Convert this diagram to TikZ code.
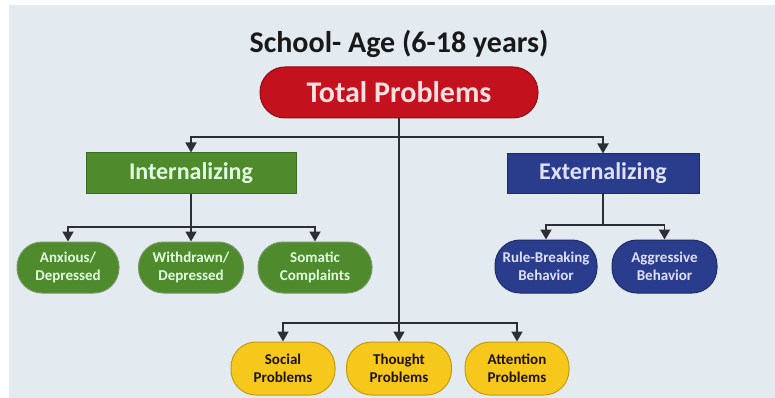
\documentclass[tikz,border=0pt]{standalone}
\usepackage{fontspec}
\setmainfont{Carlito}
\usetikzlibrary{arrows.meta}

\definecolor{bgblue}{HTML}{E3EBF1}
\definecolor{totred}{HTML}{C3121D}
\definecolor{totredline}{HTML}{8E0E14}
\definecolor{intgreen}{HTML}{4F8A2D}
\definecolor{intgreenline}{HTML}{3C6C21}
\definecolor{extblue}{HTML}{2A3D8C}
\definecolor{extblueline}{HTML}{1E2D6A}
\definecolor{syyellow}{HTML}{F6C81C}
\definecolor{syyellowline}{HTML}{C39A12}
\definecolor{linkgrey}{HTML}{2B3036}

\tikzset{
    link/.style={draw=linkgrey, line width=1.8pt, -{Triangle[length=10pt,width=11pt]}},
    plainlink/.style={draw=linkgrey, line width=1.8pt},
    pill/.style={rounded corners=25pt, align=center, font=\bfseries\fontsize{15}{18}\selectfont, line width=1pt, inner sep=0pt},
    greenpill/.style={pill, fill=intgreen, draw=intgreenline!70!white, text=white!88!green},
    bluepill/.style={pill, fill=extblue, draw=extblueline, text=white!88!blue},
    yellowpill/.style={pill, fill=syyellow, draw=syyellowline, text=black!85!brown},
    scalebox/.style={inner sep=0pt, font=\bfseries\fontsize{24}{28}\selectfont, line width=1pt}
}

\begin{document}
\begin{tikzpicture}[x=1pt, y=-1pt]
    %\draw[lightgray] (0, 0) grid[step=50] (775, 398);
    \useasboundingbox (0, 0) rectangle (775, 398);
    \fill[bgblue] (9, 5) rectangle (775, 398);

    \node[font=\bfseries\fontsize{30}{36}\selectfont, text=black!90] (title) at (399, 44) {School- Age (6-18 years)};

    \node[rounded corners=25pt, fill=totred, draw=totredline, line width=1pt, minimum width=278pt, minimum height=51pt,
        font=\bfseries\fontsize{30}{36}\selectfont, text=white!88!red] (total) at (399, 92.5) {Total Problems};

    \node[scalebox, fill=intgreen, draw=intgreenline, text=white!88!green, minimum width=210pt, minimum height=40pt] (intern) at (191, 173) {Internalizing};
    \node[scalebox, fill=extblue, draw=extblueline, text=white!88!blue, minimum width=192pt, minimum height=39pt] (extern) at (603, 173.5) {Externalizing};

    \node[greenpill, minimum width=102pt, minimum height=51pt] (anxious) at (68, 267.5) {Anxious/\\Depressed};
    \node[greenpill, minimum width=105pt, minimum height=51pt] (withdrawn) at (191, 267.5) {Withdrawn/\\Depressed};
    \node[greenpill, minimum width=114pt, minimum height=51pt] (somatic) at (315, 267.5) {Somatic\\Complaints};

    \node[bluepill, minimum width=102pt, minimum height=53pt] (rulebreak) at (546, 266.5) {Rule-Breaking\\Behavior};
    \node[bluepill, minimum width=105pt, minimum height=53pt] (aggressive) at (664.5, 266.5) {Aggressive\\Behavior};

    \node[yellowpill, minimum width=104pt, minimum height=53pt] (social) at (283, 368.5) {Social\\Problems};
    \node[yellowpill, minimum width=105pt, minimum height=53pt] (thought) at (399, 368.5) {Thought\\Problems};
    \node[yellowpill, minimum width=104pt, minimum height=53pt] (attention) at (517, 368.5) {Attention\\Problems};

    % junctions
    \coordinate (topjoin) at (399, 137);
    \coordinate (intjoin) at (191, 227);
    \coordinate (extjoin) at (603, 225);
    \coordinate (syjoin) at (399, 323);

    \draw[link] (total) -- (thought);
    \draw[link] (topjoin) -| (intern);
    \draw[link] (topjoin) -| (extern);

    \draw[link] (intern) -- (withdrawn);
    \draw[link] (intjoin) -| (anxious);
    \draw[link] (intjoin) -| (somatic);

    \draw[plainlink] (extern) -- (extjoin);
    \draw[link] (extjoin) -| (rulebreak);
    \draw[link] (extjoin) -| (aggressive);

    \draw[link] (syjoin) -| (social);
    \draw[link] (syjoin) -| (attention);
\end{tikzpicture}
\end{document}
